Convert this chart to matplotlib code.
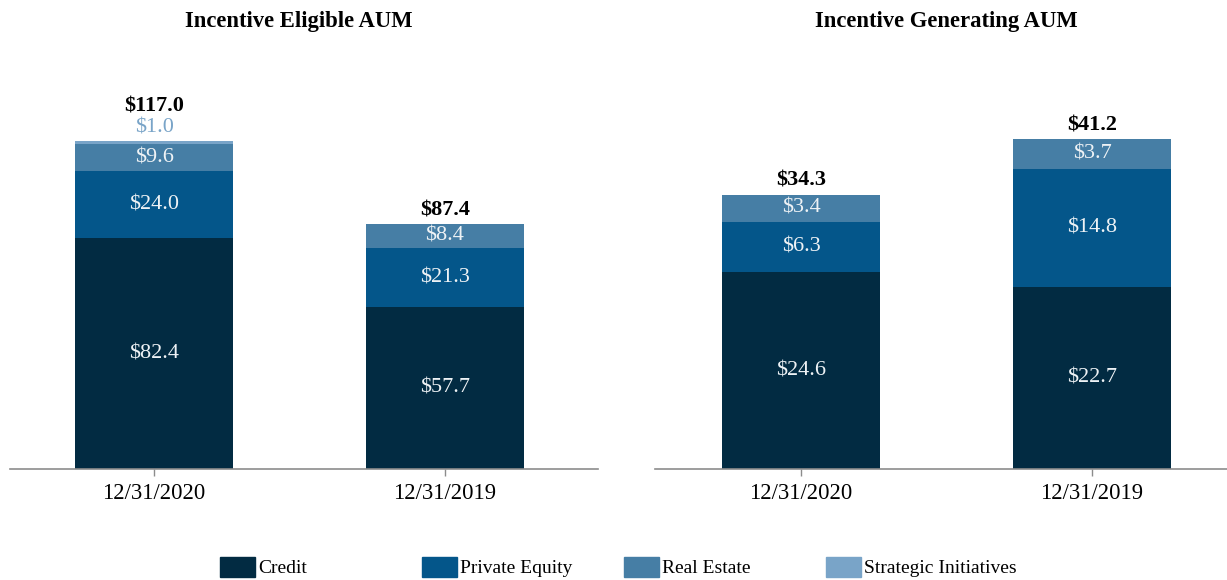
import matplotlib

matplotlib.use("Agg")
import matplotlib.pyplot as plt
from matplotlib.patches import Patch
import numpy as np

plt.rcParams["font.family"] = ["Liberation Serif", "DejaVu Serif"]

dates = ["12/31/2020", "12/31/2019"]
segments = ["Credit", "Private Equity", "Real Estate", "Strategic Initiatives"]
colors = ["#022b42", "#04568a", "#467ea5", "#79a4c8"]

# $bn, bottom to top of each stack
eligible_credit = [82.4, 57.7]
eligible_pe = [24.0, 21.3]
eligible_re = [9.6, 8.4]
eligible_si = [1.0, 0.0]

generating_credit = [24.6, 22.7]
generating_pe = [6.3, 14.8]
generating_re = [3.4, 3.7]
generating_si = [0.0, 0.0]

W, H = 1227, 580
AX_H = 429  # px


def draw_panel(ax, stack, px_per_unit, xlim):
    x = np.arange(len(dates))
    bottom = np.zeros(len(dates))
    small = [[] for _ in dates]  # labels too small to sit inside
    for vals, color in zip(stack, colors):
        vals = np.array(vals)
        ax.bar(x, vals, bottom=bottom, width=0.543, color=color, linewidth=0)
        for i, v in enumerate(vals):
            if v <= 0:
                continue
            if v * px_per_unit >= 18:
                ax.text(x[i], bottom[i] + v / 2, f"${v:.1f}", ha="center",
                        va="center", color="#eef2f5", fontsize=16)
            else:
                small[i].append((v, color))
        bottom += vals

    for i, total in enumerate(bottom):
        off = 3
        for v, color in small[i]:
            ax.annotate(f"${v:.1f}", (x[i], total), xytext=(0, off),
                        textcoords="offset points", ha="center", va="bottom",
                        color=color, fontsize=16)
            off += 15
        ax.annotate(f"${total:.1f}", (x[i], total), xytext=(0, off),
                    textcoords="offset points", ha="center", va="bottom",
                    fontsize=16, fontweight="bold")

    ax.set_xlim(*xlim)
    ax.set_ylim(0, AX_H / px_per_unit)
    ax.set_xticks(x)
    ax.set_xticklabels(dates, fontsize=16.3)
    ax.set_yticks([])
    for s in ["top", "left", "right"]:
        ax.spines[s].set_visible(False)
    ax.spines["bottom"].set_color("#8c8c8c")
    ax.spines["bottom"].set_linewidth(1.2)
    ax.tick_params(axis="x", length=5, width=1, color="#8c8c8c", pad=5)
    ax.set_facecolor("none")


fig = plt.figure(figsize=(W / 100, H / 100), dpi=100)
ax1 = fig.add_axes([10 / W, 111 / H, 588 / W, AX_H / H])
ax2 = fig.add_axes([655 / W, 111 / H, 572 / W, AX_H / H])

draw_panel(ax1, [eligible_credit, eligible_pe, eligible_re, eligible_si],
           2.8, (-0.495, 1.526))
draw_panel(ax2, [generating_credit, generating_pe, generating_re, generating_si],
           8.0, (-0.502, 1.464))

fig.text(299 / W, 1 - 21 / H, "Incentive Eligible AUM", ha="center",
         va="center", fontsize=16.3, fontweight="bold")
fig.text(946 / W, 1 - 21 / H, "Incentive Generating AUM", ha="center",
         va="center", fontsize=16.3, fontweight="bold")

for name, color, left in zip(segments, colors, [220, 422, 624, 826]):
    fig.legend(handles=[Patch(color=color, label=name)], loc="center left",
               bbox_to_anchor=(left / W, 13 / H), frameon=False, borderpad=0,
               borderaxespad=0, handlelength=1.8, handleheight=1.2,
               handletextpad=0.15, fontsize=14)

fig.savefig("out.png", dpi=100)
